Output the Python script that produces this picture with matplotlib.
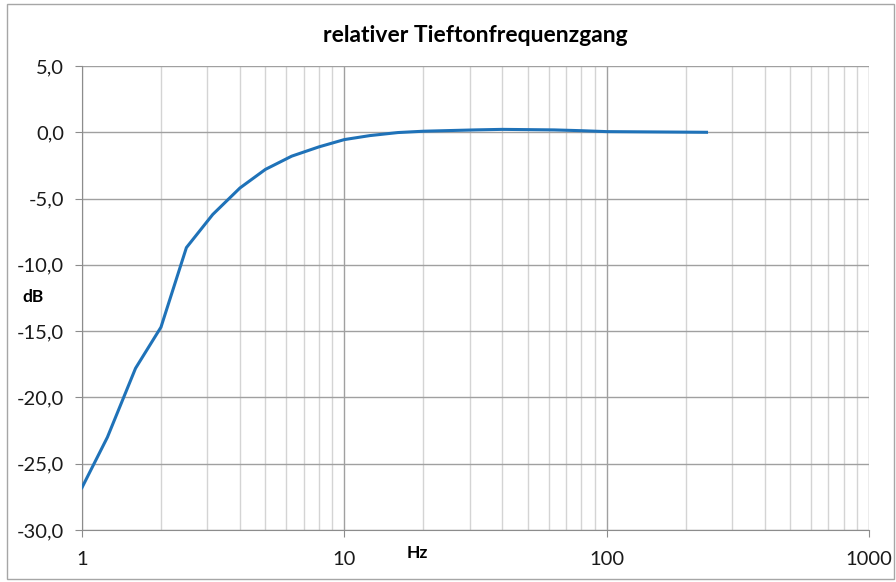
import matplotlib.pyplot as plt
from matplotlib.patches import Rectangle
from matplotlib.ticker import FixedLocator, FuncFormatter, NullFormatter

plt.rcParams['font.family'] = ['Lato', 'DejaVu Sans']

# third-octave frequencies (Hz) and relative level (dB)
freqs = [1, 1.25, 1.6, 2, 2.5, 3.15, 4, 5, 6.3, 8, 10, 12.5, 16, 20, 31.5, 40, 63, 80, 100, 240]
levels = [-26.8, -23.0, -17.8, -14.7, -8.7, -6.2, -4.2, -2.8, -1.8, -1.1, -0.55, -0.25, -0.02, 0.08,
          0.18, 0.22, 0.18, 0.12, 0.05, 0.0]

y_ticks = [5, 0, -5, -10, -15, -20, -25, -30]
x_ticks = [1, 10, 100, 1000]

fig = plt.figure(figsize=(8.96, 5.82), dpi=100)
ax = fig.add_axes([0.0915, 0.0893, 0.8785, 0.7973])

ax.plot(freqs, levels, color='#1f72b8', lw=2.2, zorder=3)

ax.set_xscale('log')
ax.set_xlim(1, 1000)
ax.set_ylim(-30, 5)
ax.set_yticks(y_ticks)
ax.yaxis.set_major_formatter(FuncFormatter(lambda v, p: f"{v:.1f}".replace('.', ',')))
ax.xaxis.set_major_locator(FixedLocator(x_ticks))
ax.xaxis.set_major_formatter(FuncFormatter(lambda v, p: f"{v:g}"))
ax.xaxis.set_minor_locator(FixedLocator([m * d for d in (1, 10, 100) for m in range(2, 10)]))
ax.xaxis.set_minor_formatter(NullFormatter())

ax.grid(True, which='major', color='#a0a0a0', lw=1.0, zorder=0)
ax.grid(True, which='minor', axis='x', color='#d4d4d4', lw=1.0, zorder=0)

for s in ('top', 'right'):
    ax.spines[s].set_visible(False)
ax.spines['left'].set_color('#8c8c8c')
ax.spines['bottom'].set_color('#8c8c8c')
ax.tick_params(axis='both', which='major', length=5, color='#8c8c8c', labelsize=14.5, labelcolor='#1a1a1a')
ax.tick_params(axis='y', which='major', pad=8)
ax.tick_params(axis='x', which='major', pad=10)
ax.tick_params(axis='x', which='minor', length=0)

ax.set_title('relativer Tieftonfrequenzgang', fontsize=16.5, fontweight='bold', pad=17)
fig.text(0.025, 0.49, 'dB', fontsize=12.5, fontweight='bold', ha='left', va='center')
fig.text(0.466, 0.050, 'Hz', fontsize=12.5, fontweight='bold', ha='center', va='center')

fig.patches.append(Rectangle((0.008, 0.005), 0.99, 0.988, transform=fig.transFigure,
                             fill=False, edgecolor='#a6a6a6', lw=1.0))

fig.savefig('out.png', dpi=100)
